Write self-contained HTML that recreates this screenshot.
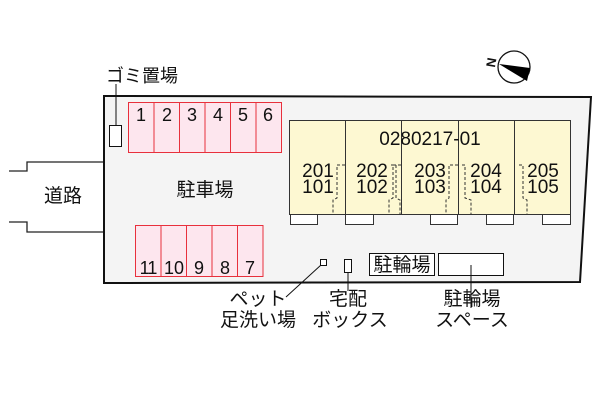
<!DOCTYPE html>
<html><head><meta charset="utf-8"><style>
html,body{margin:0;padding:0;background:#fff;}
svg{display:block;}
text{font-family:"Liberation Sans","Noto Sans CJK JP",sans-serif;fill:#111;}
</style></head><body>
<svg width="600" height="400" viewBox="0 0 600 400" xmlns="http://www.w3.org/2000/svg">
<rect width="600" height="400" fill="#fff"/>
<polyline points="9,171 27,171 27,162 104,162" fill="none" stroke="#222" stroke-width="1.3"/>
<polyline points="9,222 27,222 27,232 104,232" fill="none" stroke="#222" stroke-width="1.3"/>
<text x="63" y="202" font-size="19" text-anchor="middle">道路</text>
<polygon points="104,96 591,97 580,282 104,283" fill="#f4f4f4" stroke="#111" stroke-width="2"/>
<g fill="#fde6ee" stroke="#e8303c" stroke-width="1">
<rect x="128.5" y="102.5" width="25.5" height="50"/>
<rect x="154" y="102.5" width="25.5" height="50"/>
<rect x="179.5" y="102.5" width="25.5" height="50"/>
<rect x="205" y="102.5" width="25.5" height="50"/>
<rect x="230.5" y="102.5" width="25.5" height="50"/>
<rect x="256" y="102.5" width="25.5" height="50"/>
<rect x="135.5" y="225.5" width="25.5" height="51"/>
<rect x="161" y="225.5" width="25.5" height="51"/>
<rect x="186.5" y="225.5" width="25.5" height="51"/>
<rect x="212" y="225.5" width="25.5" height="51"/>
<rect x="237.5" y="225.5" width="25.5" height="51"/>
</g>
<g font-size="18" text-anchor="middle">
<text x="141" y="121">1</text><text x="167" y="121">2</text><text x="192" y="121">3</text>
<text x="218" y="121">4</text><text x="243" y="121">5</text><text x="268" y="121">6</text>
<text x="148" y="274" letter-spacing="-1">11</text><text x="174" y="274">10</text><text x="199" y="274">9</text>
<text x="225" y="274">8</text><text x="250" y="274">7</text>
</g>
<text x="205" y="196" font-size="19" text-anchor="middle">駐車場</text>
<rect x="109.5" y="125.5" width="12" height="21" fill="#fff" stroke="#111"/>
<line x1="116" y1="125" x2="116" y2="84" stroke="#111"/>
<text x="142" y="82" font-size="18" text-anchor="middle">ゴミ置場</text>
<rect x="289.5" y="120.5" width="281" height="94" fill="#fdf8d2" stroke="#333"/>
<g stroke="#333"><line x1="345.5" y1="120" x2="345.5" y2="214"/><line x1="401.5" y1="120" x2="401.5" y2="214"/><line x1="458.5" y1="120" x2="458.5" y2="214"/><line x1="514.5" y1="120" x2="514.5" y2="214"/></g>
<g fill="#fff" stroke="#333"><rect x="290.5" y="214.5" width="27" height="10"/><rect x="345.5" y="214.5" width="28" height="10"/><rect x="430.5" y="214.5" width="27" height="10"/><rect x="486.5" y="214.5" width="27" height="10"/><rect x="542.5" y="214.5" width="28" height="10"/></g>
<g fill="none" stroke="#333" stroke-dasharray="3,2">
<polyline points="345,165 337,165 337,198 333,200 333,214"/>
<polyline points="401,165 393,165 393,198 389,200 389,214"/>
<polyline points="391,165 396,165 396,198 400,200 400,214"/>
<polyline points="458,165 449,165 449,198 446,200 446,214"/>
<polyline points="462,165 465,165 465,198 471,200 471,214"/>
<polyline points="519,165 523,165 523,198 527,200 527,214"/>
</g>
<text x="430" y="145" font-size="19" text-anchor="middle">0280217-01</text>
<g font-size="19" text-anchor="middle">
<text x="318" y="177">201</text><text x="318" y="193">101</text>
<text x="372" y="177">202</text><text x="372" y="193">102</text>
<text x="430" y="177">203</text><text x="430" y="193">103</text>
<text x="486" y="177">204</text><text x="486" y="193">104</text>
<text x="543" y="177">205</text><text x="543" y="193">105</text>
</g>
<circle cx="514" cy="67" r="16" fill="#fff" stroke="#111" stroke-width="1.3"/>
<polygon points="499,64 530,68 527,81" fill="#000"/>
<text x="490" y="72" font-size="13" font-weight="bold" transform="rotate(-80 490 67)">N</text>
<rect x="320.5" y="259.5" width="6" height="6" fill="#fff" stroke="#111"/>
<line x1="321" y1="265" x2="286" y2="297" stroke="#111"/>
<rect x="344.5" y="259.5" width="7" height="13" fill="#fff" stroke="#111"/>
<line x1="348" y1="272" x2="348" y2="291" stroke="#111"/>
<rect x="369.5" y="253.5" width="65" height="22" fill="#fff" stroke="#111"/>
<text x="402" y="271" font-size="19" text-anchor="middle">駐輪場</text>
<rect x="438.5" y="253.5" width="65" height="22" fill="#fff" stroke="#111"/>
<line x1="471" y1="265" x2="471" y2="308" stroke="#111"/>
<g font-size="19" text-anchor="middle">
<text x="258" y="305">ペット</text><text x="258" y="326">足洗い場</text>
<text x="348" y="305">宅配</text><text x="350" y="326">ボックス</text>
<text x="472" y="305">駐輪場</text><text x="472" y="326">スペース</text>
</g>
</svg>
</body></html>
